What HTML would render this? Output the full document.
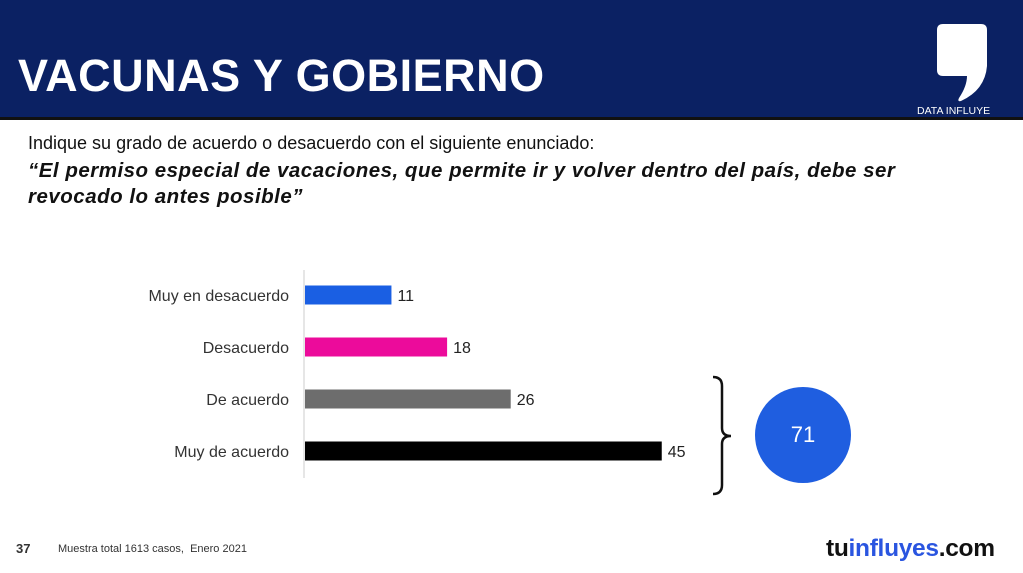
<!DOCTYPE html>
<html><head><meta charset="utf-8"><style>
body{margin:0;width:1023px;height:573px;background:#fff;position:relative;overflow:hidden;font-family:"Liberation Sans",sans-serif}
.abs{position:absolute}
</style></head><body>
<div class="abs" style="left:0;top:0;width:1023px;height:117px;background:#0b2163;border-bottom:3px solid #111"></div>
<div class="abs" style="left:18px;top:50px;color:#fff;font-weight:bold;font-size:45px;letter-spacing:0.5px">VACUNAS Y GOBIERNO</div>
<svg class="abs" style="left:935px;top:24px" width="56" height="78"><path d="M8 0 H46 Q52 0 52 6 V42 Q50 66 26 77 Q22 78 24 74 Q32 62 32 52 H8 Q2 52 2 46 V6 Q2 0 8 0Z" fill="#fff"/></svg>
<div class="abs" style="left:917px;top:105px;color:#fff;font-size:10.5px">DATA INFLUYE</div>
<div class="abs" style="left:28px;top:133px;font-size:18px;color:#111">Indique su grado de acuerdo o desacuerdo con el siguiente enunciado:</div>
<div class="abs" style="left:28px;top:158px;font-size:20.5px;letter-spacing:0.5px;font-weight:bold;font-style:italic;color:#111;line-height:26px;width:900px">“El permiso especial de vacaciones, que permite ir y volver dentro del país, debe ser revocado lo antes posible”</div>
<svg class="abs" id="chart" style="left:0;top:0" width="1023" height="573"></svg>
<div class="abs" style="left:755px;top:387px;width:96px;height:96px;border-radius:50%;background:#1f5ee0;color:#fff;font-size:22px;text-align:center;line-height:96px">71</div>
<div class="abs" style="left:16px;top:541px;font-size:13px;font-weight:bold;color:#333">37</div>
<div class="abs" style="left:58px;top:543px;font-size:11px;color:#333">Muestra total 1613 casos,&nbsp; Enero 2021</div>
<div class="abs" style="left:826px;top:535px;font-size:24.5px;font-weight:bold;letter-spacing:-0.3px"><span style="color:#111">tu</span><span style="color:#2a55e0">influyes</span><span style="color:#111">.com</span></div>
<script>
const categories=["Muy en desacuerdo","Desacuerdo","De acuerdo","Muy de acuerdo"];
const values=[11,18,26,45];
const colors=["#1a5fe3","#ec0b9b","#6d6d6d","#000000"];
const svg=document.getElementById('chart');
const NS='http://www.w3.org/2000/svg';
const x0=304,scale=7.95;
const xs=v=>x0+v*scale;
const ys=i=>295+i*52;
function mk(t,a){const e=document.createElementNS(NS,t);for(const k in a)e.setAttribute(k,a[k]);svg.appendChild(e);return e;}
const ax=mk('line',{x1:x0,x2:x0,y1:270,y2:478,stroke:'#ccc','stroke-width':1});


categories.forEach((c,i)=>{
 const r=mk('rect',{x:x0+1,y:ys(i)-9.5,width:xs(values[i])-x0-1,height:19,fill:colors[i]});
 
 
 const l=mk('text',{x:289,y:ys(i)+6,'text-anchor':'end','font-size':16,fill:'#333','font-family':'Liberation Sans'});
 l.textContent=c;
 
 
 const v=mk('text',{x:xs(values[i])+6,y:ys(i)+6,'font-size':16,fill:'#222','font-family':'Liberation Sans'});
 v.textContent=values[i];
 
 
});
const b=mk('path',{d:'M713 377 Q722 377 722 386 V428 Q722 436 731 436 Q722 436 722 444 V485 Q722 494 713 494',fill:'none',stroke:'#111','stroke-width':2.5});


</script>
</body></html>
